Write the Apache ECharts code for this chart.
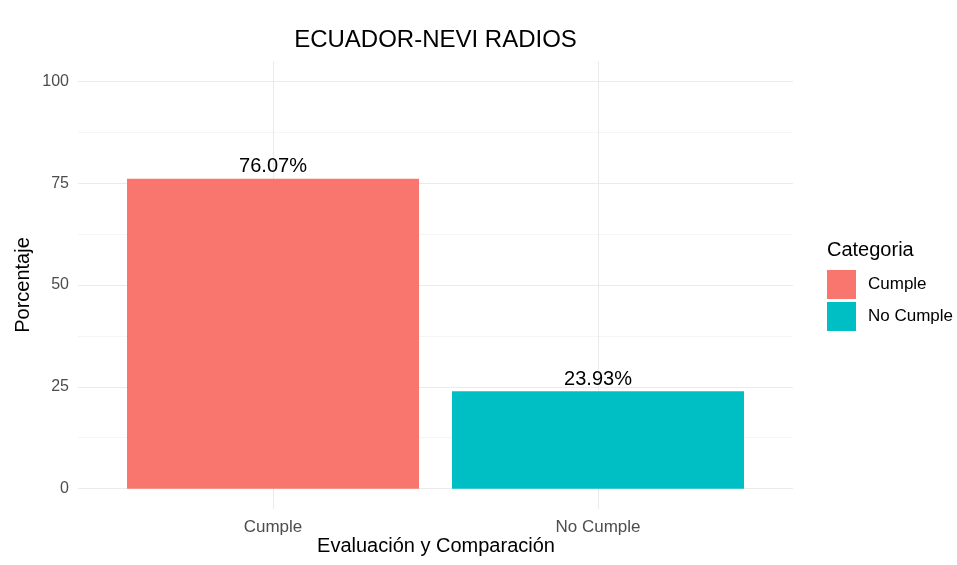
<!DOCTYPE html>
<html>
<head>
<meta charset="utf-8">
<script src="https://cdn.jsdelivr.net/npm/echarts@6/dist/echarts.min.js"></script>
<style>
  html, body { margin: 0; padding: 0; background: #ffffff; }
  #chart { width: 957px; height: 565px; }
</style>
</head>
<body>
<div id="chart"></div>
<script>
// ---- data ----
const chartTitle = 'ECUADOR-NEVI RADIOS';
const xTitle = 'Evaluación y Comparación';
const yTitle = 'Porcentaje';
const legendTitle = 'Categoria';
const categories = ['Cumple', 'No Cumple'];
const percentages = [76.07, 23.93];
const yTicks = [0, 25, 50, 75, 100];
const yMinorTicks = [12.5, 37.5, 62.5, 87.5];
const barColors = ['#F8766D', '#00BFC4'];

// ---- chart ----
const FONT = '"Liberation Sans", Arial, Helvetica, sans-serif';
const chart = echarts.init(document.getElementById('chart'), null, { renderer: 'canvas' });

const catPositions = categories.map((c, i) => i + 1);

const series = categories.map((name, i) => ({
  name: name,
  type: 'bar',
  xAxisIndex: 0,
  yAxisIndex: 0,
  barWidth: 292,
  barGap: '-100%',
  itemStyle: { color: barColors[i] },
  label: {
    show: true,
    position: 'top',
    distance: 2,
    formatter: p => p.value[1].toFixed(2) + '%',
    color: '#000000',
    fontFamily: FONT,
    fontSize: 20
  },
  data: [[catPositions[i], percentages[i]]]
}));

const option = {
  animation: false,
  backgroundColor: '#ffffff',
  textStyle: { fontFamily: FONT },
  grid: { left: 78, right: 164, top: 61, bottom: 56, containLabel: false },
  xAxis: [{
    type: 'value',
    min: 0.4,
    max: 2.6,
    axisLine: { show: false },
    axisTick: { show: false, customValues: catPositions },
    axisLabel: {
      show: true,
      customValues: catPositions,
      formatter: v => categories[Math.round(v) - 1] || '',
      color: '#4D4D4D',
      fontSize: 17,
      fontFamily: FONT,
      margin: 10
    },
    splitLine: { show: true, lineStyle: { color: '#EBEBEB', width: 1.1 } },
    minorSplitLine: { show: false }
  }],
  yAxis: [{
    type: 'value',
    min: -5,
    max: 105,
    axisLine: { show: false },
    axisTick: { show: false, customValues: yTicks },
    axisLabel: {
      show: true,
      customValues: yTicks,
      color: '#4D4D4D',
      fontSize: 16,
      fontFamily: FONT,
      margin: 9
    },
    splitLine: { show: true, lineStyle: { color: '#EBEBEB', width: 1.1 } }
  }, {
    type: 'value',
    min: -5,
    max: 105,
    position: 'left',
    axisLine: { show: false },
    axisTick: { show: false, customValues: yMinorTicks },
    axisLabel: { show: false, customValues: yMinorTicks },
    splitLine: { show: true, lineStyle: { color: '#F2F2F2', width: 0.8 } }
  }],
  legend: {
    orient: 'vertical',
    left: 827,
    top: 270,
    padding: 0,
    itemWidth: 29,
    itemHeight: 29,
    itemGap: 3,
    icon: 'rect',
    data: categories,
    textStyle: { color: '#000000', fontSize: 17, fontFamily: FONT, padding: [2, 0, 0, 7] }
  },
  graphic: [
    {
      type: 'text', x: 435.5, y: 40,
      style: { text: chartTitle, fill: '#000000', font: '24px ' + FONT, textAlign: 'center', textVerticalAlign: 'middle' }
    },
    {
      type: 'text', x: 436, y: 546,
      style: { text: xTitle, fill: '#000000', font: '20px ' + FONT, textAlign: 'center', textVerticalAlign: 'middle' }
    },
    {
      type: 'text', x: 23, y: 285, rotation: Math.PI / 2,
      style: { text: yTitle, fill: '#000000', font: '20px ' + FONT, textAlign: 'center', textVerticalAlign: 'middle' }
    },
    {
      type: 'text', x: 827, y: 250,
      style: { text: legendTitle, fill: '#000000', font: '20px ' + FONT, textAlign: 'left', textVerticalAlign: 'middle' }
    }
  ],
  series: series
};

chart.setOption(option);
</script>
</body>
</html>
